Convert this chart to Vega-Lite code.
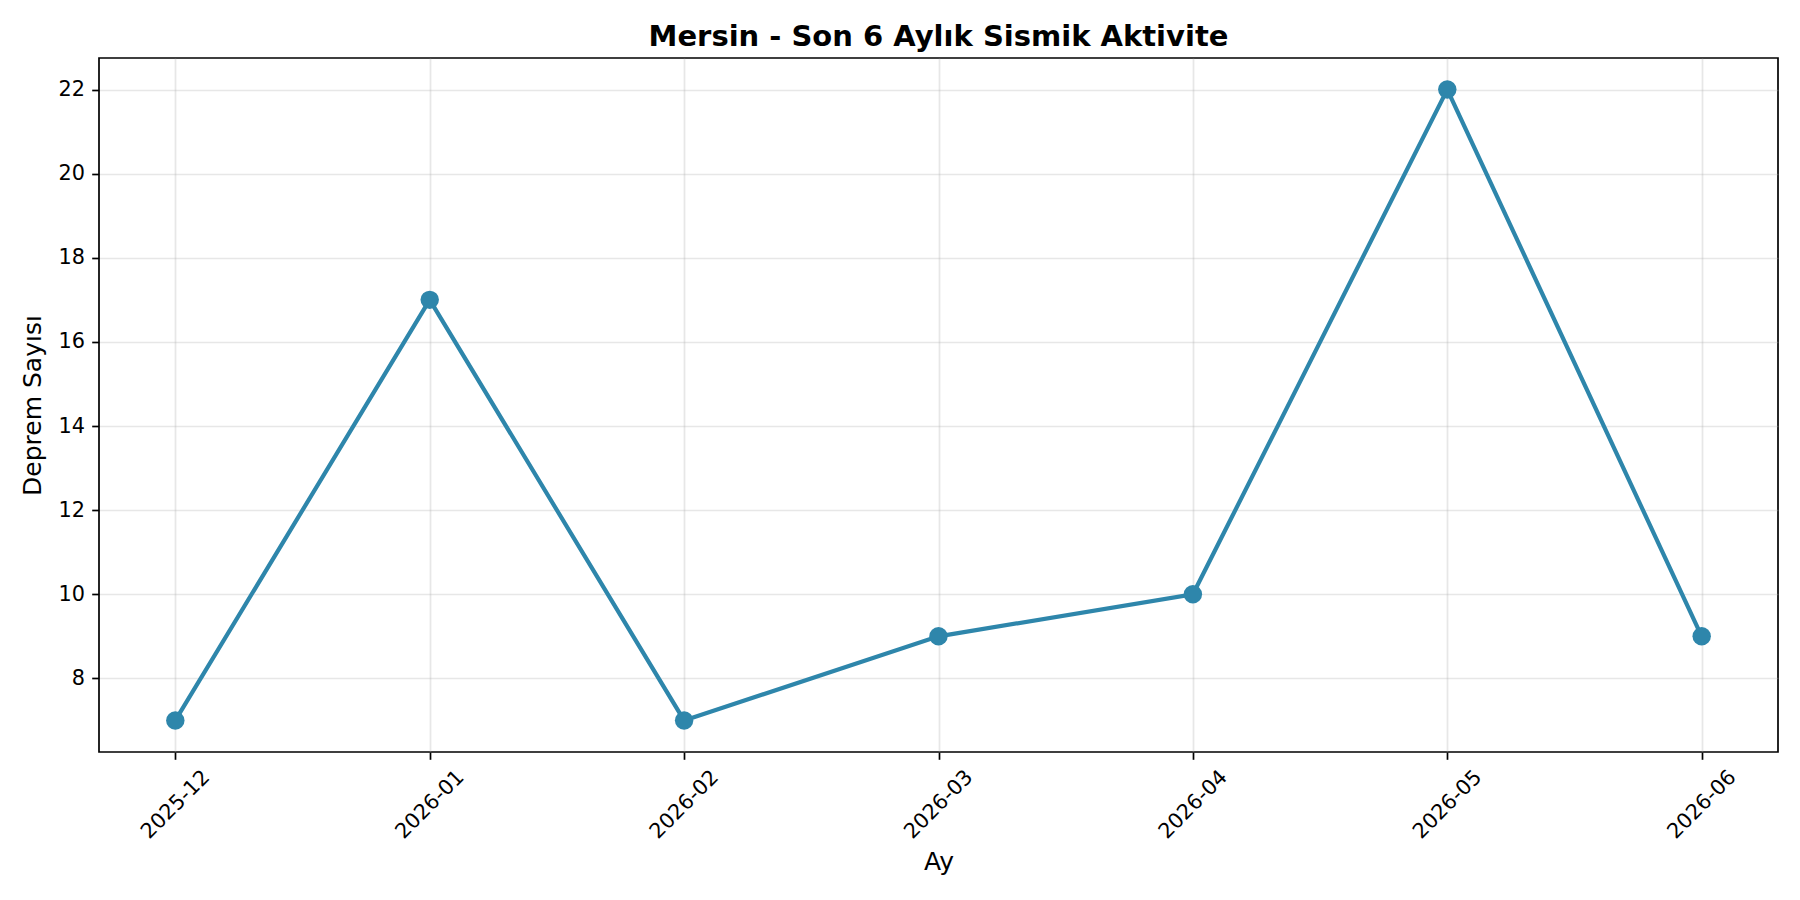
{
  "$schema": "https://vega.github.io/schema/vega-lite/v6.json",
  "autosize": {"type": "none"},
  "width": 1679,
  "height": 694,
  "padding": {"left": 99, "top": 58, "right": 22, "bottom": 148},
  "background": "white",
  "config": {
    "font": "DejaVu Sans",
    "view": {"stroke": "black", "strokeWidth": 1.7},
    "axis": {
      "domain": false,
      "gridColor": "#b0b0b0",
      "gridOpacity": 0.3,
      "gridWidth": 1.7,
      "tickColor": "black",
      "tickWidth": 1.7,
      "tickSize": 7.3,
      "labelFont": "DejaVu Sans",
      "labelFontSize": 20.8,
      "labelColor": "black",
      "titleFont": "DejaVu Sans",
      "titleFontSize": 25,
      "titleFontWeight": "normal",
      "titleColor": "black"
    }
  },
  "title": {
    "text": "Mersin - Son 6 Aylık Sismik Aktivite",
    "font": "DejaVu Sans",
    "fontSize": 29,
    "fontWeight": "bold",
    "color": "black",
    "anchor": "middle",
    "offset": 6.5
  },
  "data": {
    "values": [
      {"Ay": "2025-12", "Deprem": 7},
      {"Ay": "2026-01", "Deprem": 17},
      {"Ay": "2026-02", "Deprem": 7},
      {"Ay": "2026-03", "Deprem": 9},
      {"Ay": "2026-04", "Deprem": 10},
      {"Ay": "2026-05", "Deprem": 22},
      {"Ay": "2026-06", "Deprem": 9}
    ]
  },
  "encoding": {
    "x": {
      "field": "Ay",
      "type": "ordinal",
      "sort": null,
      "scale": {"type": "point", "padding": 0.3},
      "axis": {
        "title": "Ay",
        "labelAngle": -45,
        "labelAlign": "center",
        "labelBaseline": "middle",
        "labelPadding": 45,
        "titlePadding": 8,
        "grid": true
      }
    },
    "y": {
      "field": "Deprem",
      "type": "quantitative",
      "scale": {"domain": [6.25, 22.75], "nice": false, "zero": false},
      "axis": {
        "title": "Deprem Sayısı",
        "values": [8, 10, 12, 14, 16, 18, 20, 22],
        "labelPadding": 7.3,
        "titlePadding": 12,
        "grid": true
      }
    }
  },
  "layer": [
    {
      "mark": {"type": "line", "color": "#2E86AB", "strokeWidth": 4.2}
    },
    {
      "mark": {"type": "point", "filled": true, "shape": "circle", "size": 340, "color": "#2E86AB", "opacity": 1}
    }
  ]
}
